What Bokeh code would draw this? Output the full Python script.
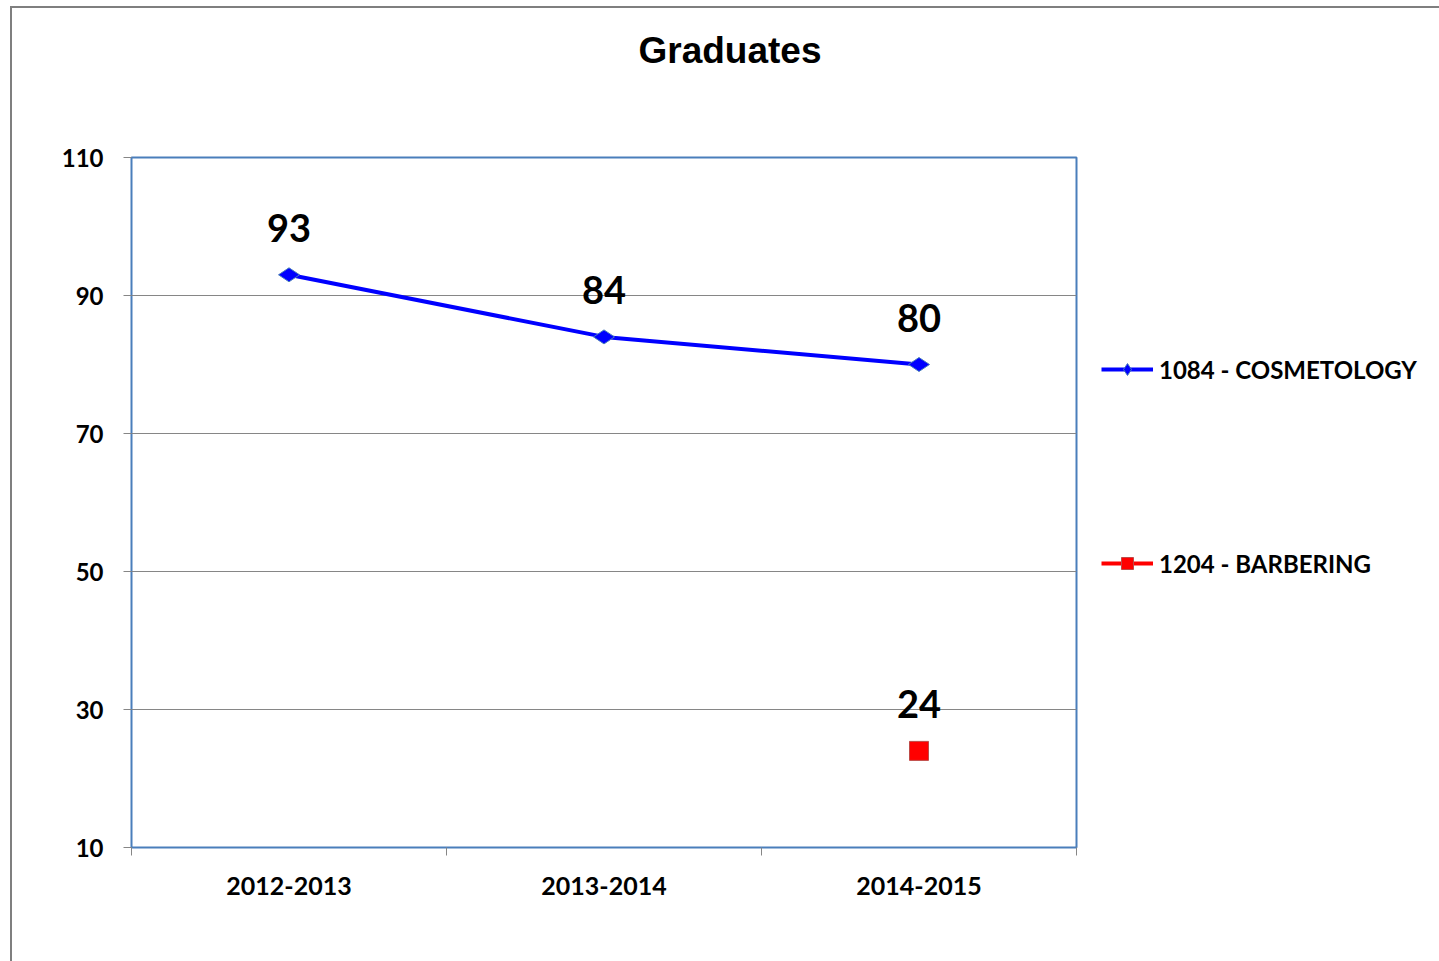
import math
from bokeh.plotting import figure
from bokeh.models import (ColumnDataSource, Range1d, LinearAxis, FixedTicker,
                          Legend, LegendItem, LabelSet)
from bokeh.core.properties import value
from bokeh.embed import file_html
from bokeh.resources import INLINE

# ---- data ----
years = ["2012-2013", "2013-2014", "2014-2015"]
cosmetology = [93, 84, 80]
barbering = [float("nan"), float("nan"), 24]
y_ticks = [10, 30, 50, 70, 90, 110]
title_text = "Graduates"
series_names = ["1084 - COSMETOLOGY", "1204 - BARBERING"]

FONT = "Lato"
GRID = "#868686"

n = len(years)
xpos = [i + 0.5 for i in range(n)]          # category centres on a 0..n axis

p = figure(frame_width=945, frame_height=690, output_backend="svg", toolbar_location=None,
           x_range=Range1d(0, n), y_range=Range1d(y_ticks[0], y_ticks[-1]),
           x_axis_location=None, y_axis_location=None,
           min_border_left=131, min_border_right=0, min_border_top=157, min_border_bottom=114)
p.background_fill_color = "white"
p.border_fill_color = None
p.styles = {"background": "linear-gradient(#7f7f7f,#7f7f7f) 10px 6px / 2px 100% no-repeat, "
                          "linear-gradient(#7f7f7f,#7f7f7f) 10px 6px / 100% 2px no-repeat, white",
            "max-width": "1439px", "overflow": "hidden"}
p.outline_line_color = "#4A7EBB"
p.outline_line_width = 2
p.xgrid.grid_line_color = None
p.ygrid.grid_line_color = GRID
p.ygrid.ticker = FixedTicker(ticks=y_ticks)

# title (trailing blank lines lift it to the top of the border area)
p.title.text = title_text + "\n\n"
p.title.align = "left"
p.title.offset = 507
p.title.text_font = "Liberation Sans"
p.title.text_font_style = "bold"
p.title.text_font_size = "37px"
p.title.text_line_height = 1.0
p.title.text_color = "black"

# y axis
yax = LinearAxis(ticker=FixedTicker(ticks=y_ticks, minor_ticks=[]))
yax.axis_line_color = None
yax.major_tick_line_color = GRID
yax.major_tick_out = 8
yax.major_tick_in = 0
yax.major_label_standoff = 20
yax.major_label_text_font = FONT
yax.major_label_text_font_style = "bold"
yax.major_label_text_font_size = "24px"
yax.major_label_text_color = "black"
p.add_layout(yax, "left")

# x axis: category labels centred, ticks at category boundaries
xax = LinearAxis(ticker=FixedTicker(ticks=xpos, minor_ticks=list(range(n + 1))),
                 major_label_overrides={c: y for c, y in zip(xpos, years)})
xax.axis_line_color = None
xax.major_tick_line_color = None
xax.major_tick_out = 0
xax.major_tick_in = 0
xax.minor_tick_line_color = GRID
xax.minor_tick_out = 8
xax.minor_tick_in = 0
xax.major_label_standoff = 21
xax.major_label_text_font = FONT
xax.major_label_text_font_style = "bold"
xax.major_label_text_font_size = "25px"
xax.major_label_text_color = "black"
p.add_layout(xax, "below")

src_c = ColumnDataSource(dict(x=xpos, y=cosmetology, t=[str(v) for v in cosmetology]))
src_b = ColumnDataSource(dict(x=xpos, y=barbering,
                              t=["" if math.isnan(v) else str(int(v)) for v in barbering]))

l1 = p.line("x", "y", source=src_c, line_color="blue", line_width=4)
s1 = p.scatter("x", "y", source=src_c, marker="diamond", angle=math.pi / 2, size=21,
               fill_color="blue", line_color="#4A7EBB", line_width=1)
l2 = p.line("x", "y", source=src_b, line_color="red", line_width=4)
s2 = p.scatter("x", "y", source=src_b, marker="square", size=19, fill_color="red",
               line_color="#BE4B48", line_width=1)

for src in (src_c, src_b):
    p.add_layout(LabelSet(x="x", y="y", text="t", source=src, y_offset=33,
                          text_align="center", text_baseline="alphabetic",
                          text_font=value(FONT), text_font_style="bold",
                          text_font_size="38px", text_color="black"))

legend = Legend(items=[LegendItem(label=series_names[0], renderers=[l1, s1]),
                       LegendItem(label=series_names[1], renderers=[l2, s2])],
                location="top_left", orientation="vertical",
                title=" ", title_text_font_size="1px", title_standoff=171,
                label_text_font=FONT, label_text_font_style="bold",
                label_text_font_size="24px", label_text_color="black",
                glyph_width=52, glyph_height=30, label_height=30, label_standoff=6,
                spacing=164, padding=0, margin=25, border_line_color=None,
                background_fill_alpha=0)
p.add_layout(legend, "right")

open("out.html", "w").write(file_html(p, INLINE))
